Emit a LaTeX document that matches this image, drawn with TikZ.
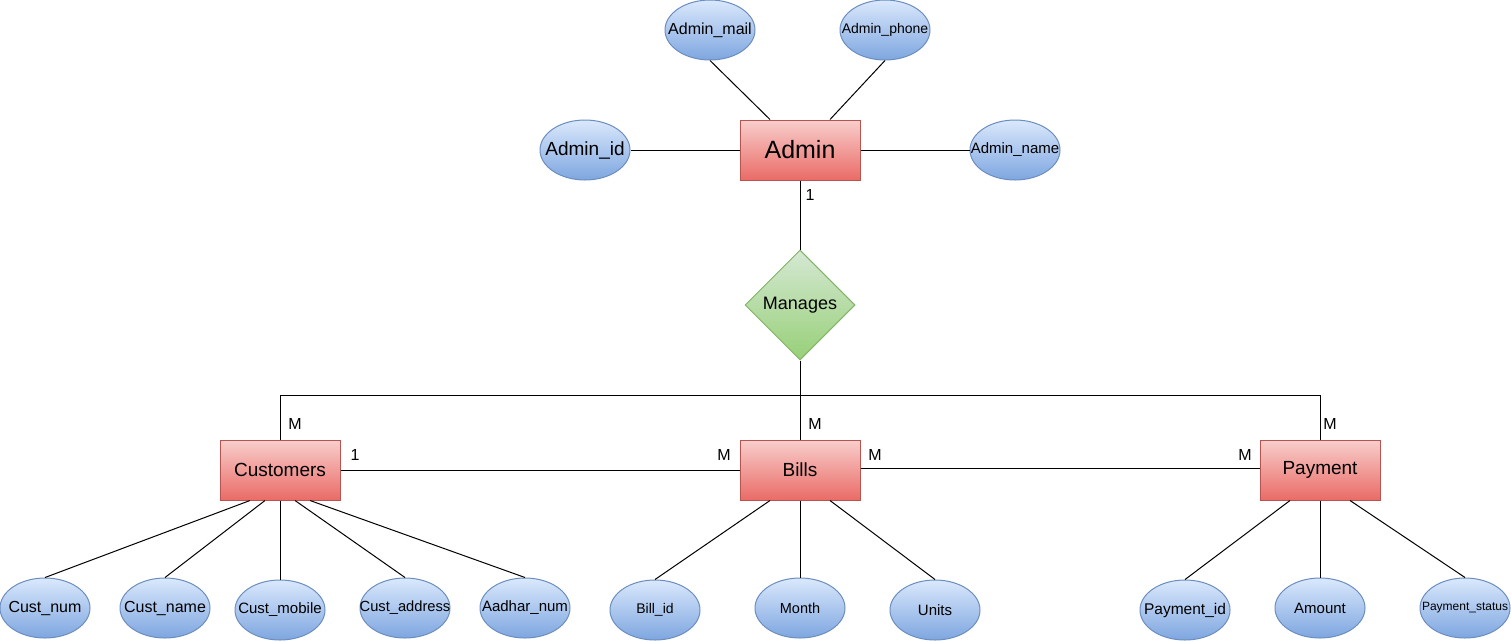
\documentclass[tikz,border=0pt]{standalone}
\usepackage{fontspec}
\setmainfont{Liberation Sans}
\usetikzlibrary{shapes.geometric}
\usetikzlibrary{calc}

\definecolor{entline}{HTML}{B85450}
\definecolor{enttop}{HTML}{F8CECC}
\definecolor{entbot}{HTML}{EA6B66}
\definecolor{attline}{HTML}{6C8EBF}
\definecolor{atttop}{HTML}{DAE8FC}
\definecolor{attbot}{HTML}{7EA6E0}
\definecolor{relline}{HTML}{82B366}
\definecolor{reltop}{HTML}{D5E8D4}
\definecolor{relbot}{HTML}{97D077}

\newcommand{\fs}[1]{\fontsize{#1}{#1}\selectfont}
\newcommand{\tx}[1]{\makebox[0pt]{#1}}

\begin{document}
\begin{tikzpicture}[x=1pt,y=-1pt,
  entity/.style={rectangle,draw=entline,top color=enttop,bottom color=entbot,minimum width=120pt,minimum height=60pt,inner sep=0pt,line width=1pt},
  attr/.style={ellipse,draw=attline,top color=atttop,bottom color=attbot,minimum width=90pt,minimum height=60pt,inner sep=0pt,line width=1pt},
  relation/.style={diamond,draw=relline,top color=reltop,bottom color=relbot,minimum width=110pt,minimum height=110pt,inner sep=0pt,line width=1pt},
  card/.style={inner sep=0pt,font=\fs{16}},
  link/.style={line width=1pt}]
\useasboundingbox (0,0) rectangle (1511,641);

% entities
\node[entity,font=\fs{25}] (admin) at (800,150) {Admin};
\node[entity,font=\fs{19}] (cust) at (280,470) {Customers};
\node[entity,font=\fs{19}] (bills) at (800,470) {Bills};
\node[entity,font=\fs{19}] (pay) at (1320,470) {Payment};

% relationship
\node[relation,font=\fs{18}] (manages) at (800,305) {\tx{Manages}};

% admin attributes
\node[attr,font=\fs{16}] (amail) at (710,30) {\tx{Admin\_mail}};
\node[attr,font=\fs{14}] (aphone) at (885,30) {\tx{Admin\_phone}};
\node[attr,font=\fs{19}] (aid) at (585,150) {\tx{Admin\_id}};
\node[attr,font=\fs{15}] (aname) at (1015,150) {\tx{Admin\_name}};

% customer attributes
\node[attr,font=\fs{16}] (cnum) at (45,608) {\tx{Cust\_num}};
\node[attr,font=\fs{16}] (cname) at (165,608) {\tx{Cust\_name}};
\node[attr,font=\fs{15}] (cmob) at (280,610) {\tx{Cust\_mobile}};
\node[attr,font=\fs{14.7}] (caddr) at (405,608) {\tx{Cust\_address}};
\node[attr,font=\fs{15}] (aadhar) at (525,608) {\tx{Aadhar\_num}};

% bill attributes
\node[attr,font=\fs{14}] (billid) at (655,610) {\tx{Bill\_id}};
\node[attr,font=\fs{14.5}] (month) at (800,608) {\tx{Month}};
\node[attr,font=\fs{15}] (units) at (935,610) {\tx{Units}};

% payment attributes
\node[attr,font=\fs{15.5}] (payid) at (1185,610) {\tx{Payment\_id}};
\node[attr,font=\fs{15}] (amount) at (1320,608) {\tx{Amount}};
\node[attr,font=\fs{12}] (paystat) at (1465,608) {\tx{Payment\_status}};

% admin links
\draw[link] (amail.south) -- ([xshift=-30pt]admin.north);
\draw[link] (aphone.south) -- ([xshift=30pt]admin.north);
\draw[link] (aid) -- (admin);
\draw[link] (admin) -- (aname);

% manages links
\coordinate (split) at (800,395);
\draw[link] (admin) -- (manages);
\draw[link] (manages) -- (split);
\draw[link] (split) -| (cust.north);
\draw[link] (split) -- (bills.north);
\draw[link] (split) -| (pay.north);
\draw[link] (cust) -- (bills);
\draw[link] ([yshift=2pt]bills.east) -- ([yshift=2pt]pay.west);

% attribute links
\draw[link] ([xshift=-30pt]cust.south) -- (cnum.north);
\draw[link] ([xshift=-15pt]cust.south) -- (cname.north);
\draw[link] (cust.south) -- (cmob.north);
\draw[link] ([xshift=15pt]cust.south) -- (caddr.north);
\draw[link] ([xshift=30pt]cust.south) -- (aadhar.north);
\draw[link] ([xshift=-30pt]bills.south) -- (billid.north);
\draw[link] (bills.south) -- (month.north);
\draw[link] ([xshift=30pt]bills.south) -- (units.north);
\draw[link] ([xshift=-30pt]pay.south) -- (payid.north);
\draw[link] (pay.south) -- (amount.north);
\draw[link] ([xshift=30pt]pay.south) -- (paystat.north);

% cardinalities
\node[card] (c1) at (810,195) {1};
\node[card] (c2) at (295,424) {M};
\node[card] (c3) at (815,424) {M};
\node[card] (c4) at (1330,424) {M};
\node[card] (c5) at (355,455) {1};
\node[card] (c6) at (724,455) {M};
\node[card] (c7) at (875,455) {M};
\node[card] (c8) at (1245,455) {M};
\end{tikzpicture}
\end{document}
